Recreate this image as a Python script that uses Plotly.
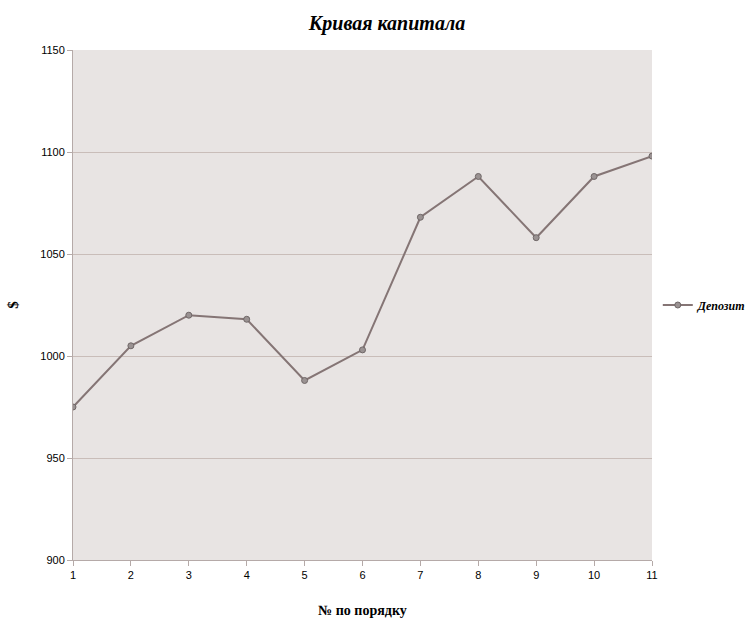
import plotly.graph_objects as go

# Equity curve: deposit after each trade
trade_no = [1, 2, 3, 4, 5, 6, 7, 8, 9, 10, 11]
deposit = [975, 1005, 1020, 1018, 988, 1003, 1068, 1088, 1058, 1088, 1098]
y_ticks = [900, 950, 1000, 1050, 1100, 1150]

fig = go.Figure()
fig.add_trace(go.Scatter(
    x=trade_no, y=deposit, mode="lines+markers", name="<b><i>Депозит</i></b>",
    line=dict(color="#857575", width=2),
    marker=dict(size=6, color="#9a9292", line=dict(color="#6f6767", width=1)),
))

fig.update_layout(
    width=747, height=621,
    margin=dict(l=73, r=95, t=50, b=61, autoexpand=False),
    paper_bgcolor="white", plot_bgcolor="#e8e4e3",
    title=dict(text="<b><i>Кривая капитала</i></b>", x=0.518, xanchor="center",
               y=0.963, yanchor="middle",
               font=dict(family="Liberation Serif", size=20, color="black")),
    legend=dict(x=1.01, y=0.5, yanchor="middle", xanchor="left",
                font=dict(family="Liberation Serif", size=12, color="black"),
                bgcolor="rgba(0,0,0,0)", itemwidth=30),
    showlegend=True,
)
fig.update_xaxes(
    range=[1, 11], tickvals=trade_no, ticks="outside", ticklen=5,
    tickcolor="#b5aaa8", showline=True, linecolor="#b5aaa8", showgrid=False,
    zeroline=False, automargin=False,
    tickfont=dict(family="Liberation Sans", size=11, color="black"),
    title=dict(text="<b>№ по порядку</b>", standoff=24,
               font=dict(family="Liberation Serif", size=14, color="black")),
)
fig.update_yaxes(
    range=[900, 1150], tickvals=y_ticks, ticks="outside", ticklen=5,
    tickcolor="#b5aaa8", showline=True, linecolor="#b5aaa8",
    showgrid=True, gridcolor="#c9bdb9", gridwidth=1, zeroline=False,
    automargin=False,
    tickfont=dict(family="Liberation Sans", size=11, color="black"),
    title=dict(text="<b>$</b>", standoff=18,
               font=dict(family="Liberation Serif", size=15, color="black")),
)

fig.write_html("out.html")
